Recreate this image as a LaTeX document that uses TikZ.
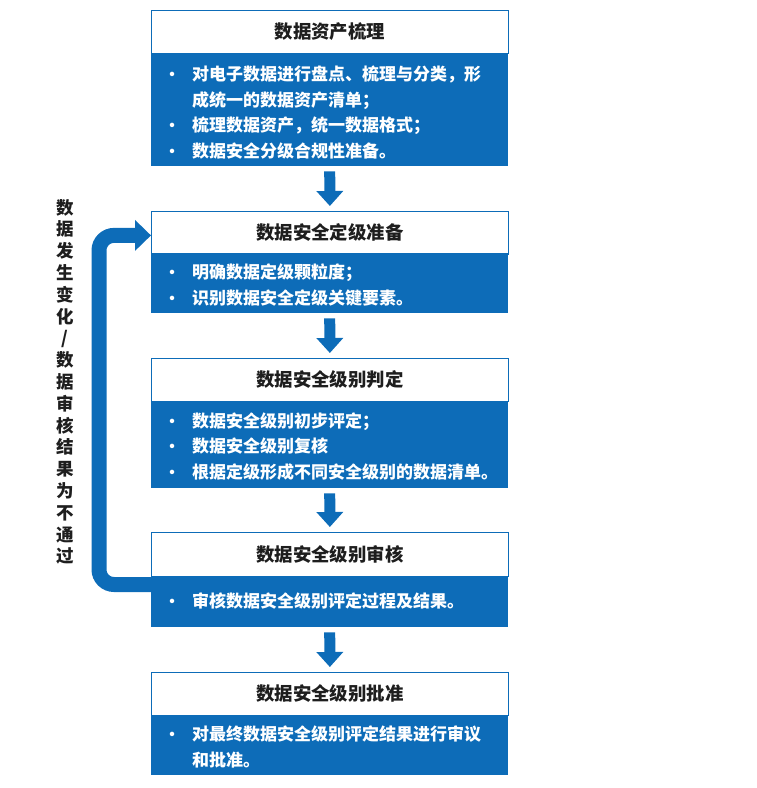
\documentclass[tikz,border=0pt]{standalone}
\usepackage{fontspec}
\setmainfont{Noto Sans CJK SC}
\usetikzlibrary{arrows.meta,calc}
\definecolor{mblue}{RGB}{13,108,184}
\definecolor{tgray}{RGB}{30,30,30}
\newcommand{\bul}{\makebox[28pt][l]{\fontsize{16}{16}\selectfont\textbullet}}
\newcommand{\blist}[1]{\begin{tabular}{@{}l@{}l@{}}#1\end{tabular}}
\tikzset{
  boxtitle/.style={draw=mblue, line width=0.8pt, fill=white, minimum width=357pt, minimum height=43pt,
    anchor=north west, inner sep=0pt, font=\fontsize{18.4}{18.4}\selectfont\bfseries, text=tgray},
  boxbody/.style={fill=mblue, minimum width=357pt, anchor=north west, inner sep=0pt},
  boxtext/.style={anchor=west, inner sep=0pt, text=white, font=\fontsize{17}{25.5}\selectfont\bfseries},
  blockarrow/.style={draw=mblue, line width=11pt, -{Triangle[width=26pt,length=15pt]}, shorten <=5pt, shorten >=5pt},
  backarrow/.style={draw=mblue, line width=15pt, -{Triangle[width=30pt,length=16pt]}, rounded corners=15pt},
  sidetext/.style={anchor=north, inner sep=0pt, align=center, text=tgray, font=\fontsize{17.5}{21.8}\selectfont\bfseries}
}
\begin{document}
\begin{tikzpicture}[x=1pt,y=-1pt]
\useasboundingbox (0,0) rectangle (756,788);
% box 1
\node[boxtitle] (t1) at (151,10) {数据资产梳理};
\node[boxbody, minimum height=113pt] (b1) at (151,53) {};
\node[boxtext] (x1) at ($(b1.west)+(13,4)$) {\blist{\bul & 对电子数据进行盘点、梳理与分类，形\\ & 成统一的数据资产清单；\\ \bul & 梳理数据资产，统一数据格式；\\ \bul & 数据安全分级合规性准备。}};
% box 2
\node[boxtitle] (t2) at (151,211) {数据安全定级准备};
\node[boxbody, minimum height=60pt] (b2) at (151,253) {};
\node[boxtext] (x2) at ($(b2.west)+(13,3)$) {\blist{\bul & 明确数据定级颗粒度；\\ \bul & 识别数据安全定级关键要素。}};
% box 3
\node[boxtitle] (t3) at (151,358) {数据安全级别判定};
\node[boxbody, minimum height=87pt] (b3) at (151,401) {};
\node[boxtext] (x3) at ($(b3.west)+(13,3)$) {\blist{\bul & 数据安全级别初步评定；\\ \bul & 数据安全级别复核\\ \bul & 根据定级形成不同安全级别的数据清单。}};
% box 4
\node[boxtitle, minimum height=44pt] (t4) at (151,532) {数据安全级别审核};
\node[boxbody, minimum height=51pt] (b4) at (151,576) {};
\node[boxtext] (x4) at ($(b4.west)+(13,1)$) {\blist{\bul & 审核数据安全级别评定过程及结果。}};
% box 5
\node[boxtitle] (t5) at (151,672) {数据安全级别批准};
\node[boxbody, minimum height=60pt] (b5) at (151,715) {};
\node[boxtext] (x5) at ($(b5.west)+(13,3)$) {\blist{\bul & 对最终数据安全级别评定结果进行审议\\ & 和批准。}};
% arrows
\draw[blockarrow] (b1.south) -- (t2.north);
\draw[blockarrow] (b2.south) -- (t3.north);
\draw[blockarrow] (b3.south) -- (t4.north);
\draw[blockarrow] (b4.south) -- (t5.north);
% feedback loop
\draw[backarrow] ($(b4.north west)+(0,8.5)$) -- ++(-52,0) |- ($(t2.west)+(0,2.5)$);
\node[sidetext] (side) at (65,199) {数\\据\\发\\生\\变\\化\\/\\数\\据\\审\\核\\结\\果\\为\\不\\通\\过};
\end{tikzpicture}
\end{document}
